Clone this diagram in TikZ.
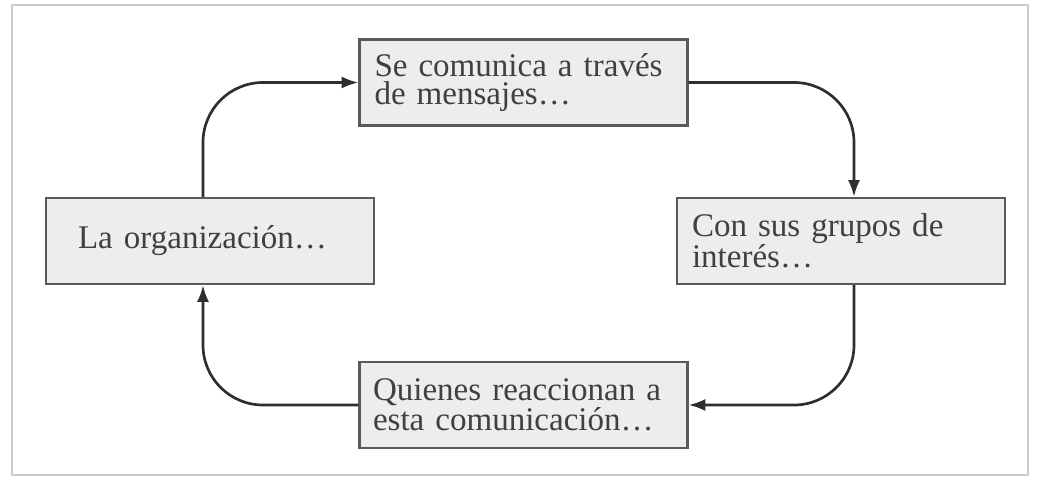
\documentclass[tikz,border=0pt]{standalone}
\usepackage{fontspec}
\setmainfont{Liberation Serif}
\usepackage{tikz}
\usetikzlibrary{arrows.meta}

\definecolor{boxfill}{HTML}{EDEDF0}
\definecolor{boxline}{HTML}{5A5A5A}
\definecolor{textgray}{HTML}{404040}
\definecolor{arrowgray}{HTML}{2E2E2E}
\definecolor{framegray}{HTML}{CCCCCC}

\begin{document}
\begin{tikzpicture}
		\tikzstyle{box}=[rectangle, draw=boxline, fill=boxfill, line width=1.5pt, minimum width=8.2cm, minimum height=2.15cm, align=left, inner xsep=0pt, text=textgray, font=\fontsize{23.5}{19.5}\selectfont]
		\tikzstyle{flow}=[-{Latex[length=0.42cm, width=0.3cm]}, line width=1.9pt, draw=arrowgray, rounded corners=1.5cm]

		\useasboundingbox (0,0) rectangle (25.95,-11.925);
		\draw[framegray, line width=1pt] (0.3,-0.125) rectangle (25.7,-11.875);

		\node[box, text width=6.6cm] (org) at (5.25,-6.025) {
			La organización\ldots
		};

		\node[box, text width=7.45cm, right of=org, xshift=14.775cm] (grp) {
			Con sus grupos de\\ interés\ldots
		};

		\node[box, text width=7.45cm] (msg) at (13.0875,-2.0625) {
			Se comunica a través\\ de mensajes\ldots
		};

		\node[box, text width=7.525cm, below of=msg, yshift=-7.0625cm] (reac) {
			Quienes reaccionan a\\ esta comunicación\ldots
		};

		\draw[flow] ([xshift=-0.175cm]org.north) |- (msg.west);
		\draw[flow] (msg.east) -| ([xshift=0.325cm]grp.north);
		\draw[flow] ([xshift=0.325cm]grp.south) |- (reac.east);
		\draw[flow] (reac.west) -| ([xshift=-0.175cm]org.south);

	\end{tikzpicture}
\end{document}
